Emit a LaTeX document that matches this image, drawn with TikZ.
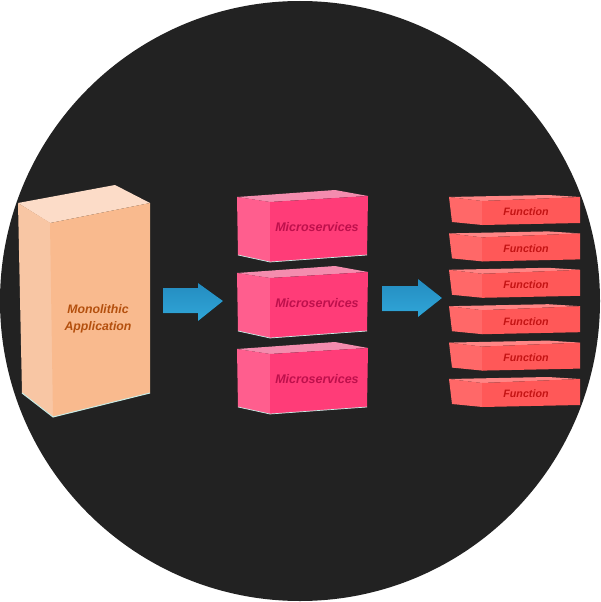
\documentclass[tikz,border=0pt]{standalone}
\usepackage{fontspec}
\setmainfont{Liberation Sans}
\definecolor{bgc}{HTML}{222222}
\definecolor{monoT}{HTML}{FCDCC8}
\definecolor{monoL}{HTML}{F8C6A4}
\definecolor{monoF}{HTML}{F9BA8E}
\definecolor{monoTxt}{HTML}{B4500E}
\definecolor{msT}{HTML}{F48CAE}
\definecolor{msL}{HTML}{FF5E8E}
\definecolor{msF}{HTML}{FF3C78}
\definecolor{msTxt}{HTML}{BE104C}
\definecolor{fnT}{HTML}{FF8585}
\definecolor{fnL}{HTML}{FF6868}
\definecolor{fnF}{HTML}{FF5858}
\definecolor{fnTxt}{HTML}{C41414}
\definecolor{edgeC}{HTML}{C8ECE6}
\definecolor{arrTop}{HTML}{248CC0}
\definecolor{arrBot}{HTML}{30A6D8}
\begin{document}
\begin{tikzpicture}[x=1pt,y=-1pt,
  monotop/.style={fill=monoT},
  monoleft/.style={fill=monoL},
  monofront/.style={fill=monoF},
  mstop/.style={fill=msT},
  msleft/.style={fill=msL},
  msfront/.style={fill=msF},
  fntop/.style={fill=fnT},
  fnleft/.style={fill=fnL},
  fnfront/.style={fill=fnF},
  edge/.style={draw=edgeC,line width=1pt},
  lbl/.style={inner sep=0pt, align=center},
  arrowshape/.style={top color=arrTop, bottom color=arrBot}
]
\useasboundingbox (0,0) rectangle (600,602);
% background circle
\fill[bgc] (300,301) circle (300);

% Monolithic application
\fill[monotop] (18,203) -- (115,185) -- (150,203) -- (50,223) -- cycle;
\fill[monoleft] (18,203) -- (50.5,223) -- (53.5,417) -- (22,393) -- cycle;
\fill[monofront] (50,223) -- (150,203) -- (150,393) -- (53,417) -- cycle;
\draw[edge] (22,393) -- (53,417) -- (150,393);
\node[lbl, text=monoTxt, font=\fontsize{12.3}{16.7}\selectfont\bfseries\itshape] (mono) at (98,318.5) {Monolithic\\Application};

% arrows
\fill[arrowshape] (163,288) -- (198,288) -- (198,283) -- (223,301) -- (198,321) -- (198,313) -- (163,313) -- cycle;
\fill[arrowshape] (382,286) -- (418,286) -- (418,279) -- (442,298) -- (418,317) -- (418,311) -- (382,311) -- cycle;

% Microservices
\foreach \i/\dy in {1/0,2/76,3/152}{
  \begin{scope}[yshift=-\dy pt]
  \fill[mstop] (237,197) -- (335,190) -- (368,196) -- (270,202) -- cycle;
  \fill[msleft] (237,197) -- (270.5,202) -- (270.5,262) -- (238,255) -- cycle;
  \fill[msfront] (270,202) -- (368,196) -- (367,255) -- (270,262) -- cycle;
  \draw[edge, line width=0.7pt] (238,255) -- (270,262) -- (367,255);
  \node[lbl, text=msTxt, font=\fontsize{12.5}{14}\selectfont\bfseries\itshape] (ms\i) at (317,227.5) {Microservices};
  \end{scope}
}

% Functions
\foreach \i/\dy in {1/0,2/36.4,3/72.8,4/109.2,5/145.6,6/182}{
  \begin{scope}[yshift=-\dy pt]
  \fill[fntop] (449,197) -- (548,195) -- (580,197) -- (482,201) -- cycle;
  \fill[fnleft] (449,197) -- (482.5,201) -- (482.5,225) -- (452,222) -- cycle;
  \fill[fnfront] (482,201) -- (580,197) -- (580,223) -- (482,225) -- cycle;
  \node[lbl, text=fnTxt, font=\fontsize{10.7}{12}\selectfont\bfseries\itshape] (fn\i) at (526,212) {Function};
  \end{scope}
}
\end{tikzpicture}
\end{document}
